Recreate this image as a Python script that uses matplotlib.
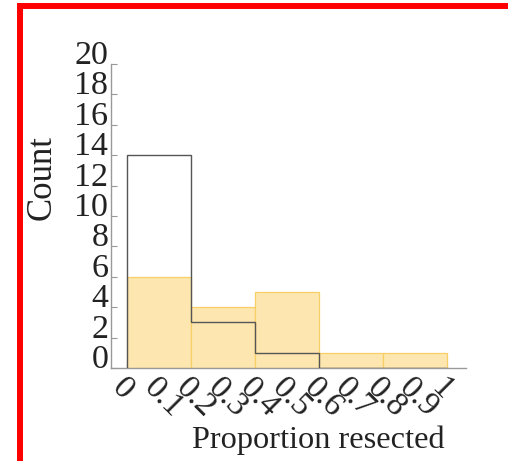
import numpy as np
import matplotlib.pyplot as plt
from matplotlib.patches import Rectangle

plt.rcParams['font.family'] = ['Liberation Serif', 'DejaVu Serif']

bin_edges = [0, 0.2, 0.4, 0.6, 0.8, 1.0]
counts_fill = [6, 4, 5, 1, 1]
counts_outline = [14, 3, 1, 0, 0]
xtick_vals = [0, 0.1, 0.2, 0.3, 0.4, 0.5, 0.6, 0.7, 0.8, 0.9, 1]
xtick_labels = ["0", "0.1", "0.2", "0.3", "0.4", "0.5", "0.6", "0.7", "0.8", "0.9", "1"]
ytick_vals = list(range(0, 21, 2))

W, H = 508, 461
fig = plt.figure(figsize=(W / 100, H / 100), dpi=100)
ax = fig.add_axes([111 / W, 1 - 368 / H, (466 - 111) / W, (368 - 64) / H])

centers = [(a + b) / 2 for a, b in zip(bin_edges[:-1], bin_edges[1:])]
ax.hist(centers, bins=bin_edges, weights=counts_fill, color='#fde6b0',
        edgecolor='#f7cf66', linewidth=0.9, zorder=2)
ax.hist(centers, bins=bin_edges, weights=counts_outline, histtype='step',
        color='#555555', linewidth=1.0, zorder=3)

ax.set_xlim(-0.05, 1.06)
ax.set_ylim(0, 20)
for s in ['top', 'right']:
    ax.spines[s].set_visible(False)
for s in ['left', 'bottom']:
    ax.spines[s].set_color('#999999')
    ax.spines[s].set_linewidth(1.0)

ax.set_yticks(ytick_vals)
ax.set_yticklabels([str(v) for v in ytick_vals], fontsize=24.5, color='#222222')
for lbl in ax.get_yticklabels():
    lbl.set_verticalalignment('baseline')
ax.set_xticks(xtick_vals)
ax.set_xticklabels(xtick_labels, fontsize=24, color='#222222', rotation=-45,
                   rotation_mode='anchor', ha='left', va='top')
ax.tick_params(axis='both', direction='in', length=4, width=0.8, color='#999999')
ax.tick_params(axis='y', pad=2)
ax.tick_params(axis='x', pad=3)

fig.text(42 / W, 1 - 177 / H, 'Count', rotation=90, fontsize=25,
         ha='center', va='center', color='#222222')
fig.text(318 / W, 1 - 440 / H, 'Proportion resected', fontsize=23.3,
         ha='center', va='center', color='#222222')

# red frame of the screenshot
fig.patches.append(Rectangle((20 / W, 1 - 463 / H), 1.0, (463 - 6) / H,
                             transform=fig.transFigure, fill=False,
                             edgecolor='red', linewidth=4.3, figure=fig))

fig.savefig('out.png', dpi=100)
